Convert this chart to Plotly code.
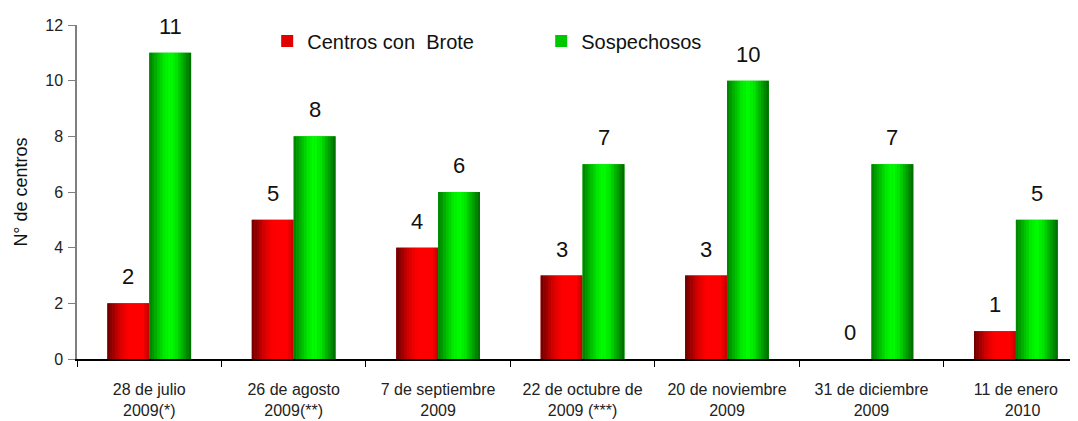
import plotly.graph_objects as go

# datos
fechas = [
    "28 de julio<br>2009(*)",
    "26 de agosto<br>2009(**)",
    "7 de septiembre<br>2009",
    "22 de octubre de<br>2009 (***)",
    "20 de noviembre<br>2009",
    "31 de diciembre<br>2009",
    "11 de enero<br>   2010",
]
centros_brote = [2, 5, 4, 3, 3, 0, 1]
sospechosos = [11, 8, 6, 7, 10, 7, 5]

FONT = "Liberation Sans"
BAR_W = 0.29
N_STRIPS = 16

# perfiles de degradado horizontal (posicion, rgb)
red_stops = [(0.0, (105, 0, 0)), (0.3, (215, 0, 0)), (0.5, (255, 0, 0)),
             (0.85, (255, 0, 0)), (1.0, (190, 0, 0))]
green_stops = [(0.0, (0, 125, 0)), (0.35, (0, 235, 0)), (0.5, (0, 255, 0)),
               (0.65, (0, 230, 0)), (1.0, (0, 100, 0))]


def grad_color(stops, t):
    for (p0, c0), (p1, c1) in zip(stops, stops[1:]):
        if p0 <= t <= p1:
            f = (t - p0) / (p1 - p0)
            r, g, b = (round(a + (b_ - a) * f) for a, b_ in zip(c0, c1))
            return f"rgb({r},{g},{b})"
    return f"rgb{stops[-1][1]}"


fig = go.Figure()

series = [
    ("Centros con  Brote", centros_brote, -BAR_W, "#e00000", red_stops),
    ("Sospechosos", sospechosos, 0.0, "#00c800", green_stops),
]

for name, vals, off, base_col, stops in series:
    fig.add_trace(go.Bar(
        x=fechas, y=vals, name=name, offset=off, width=BAR_W,
        marker=dict(color=base_col, line=dict(width=0)),
    ))
    sw = BAR_W / N_STRIPS
    for k in range(N_STRIPS):
        fig.add_trace(go.Bar(
            x=fechas, y=vals, offset=off + k * sw,
            width=sw * (1.08 if k < N_STRIPS - 1 else 1.0),
            marker=dict(color=grad_color(stops, (k + 0.5) / N_STRIPS), line=dict(width=0)),
            showlegend=False, hoverinfo="skip",
        ))

# etiquetas de valor sobre cada barra
for i, f in enumerate(fechas):
    for vals, shift in [(centros_brote, -21), (sospechosos, 21)]:
        fig.add_annotation(
            x=f, y=vals[i], text=str(vals[i]), showarrow=False,
            xshift=shift, yanchor="bottom", yshift=12,
            font=dict(family=FONT, size=22, color="#111"),
        )

# la pagina deja 8px de margen en body: la figura se ajusta a eso
fig.update_layout(
    width=1070, height=413,
    barmode="overlay",
    plot_bgcolor="white", paper_bgcolor="white",
    margin=dict(l=69, r=0, t=17, b=62),
    font=dict(family=FONT, color="#222"),
    legend=dict(
        orientation="h", x=0.19, xanchor="left", y=0.952, yanchor="middle",
        font=dict(family=FONT, size=20, color="#111"),
        entrywidth=229, entrywidthmode="pixels",
        bgcolor="rgba(0,0,0,0)",
    ),
    showlegend=True,
)

fig.update_xaxes(
    type="category", range=[-0.5, 6.43], automargin=False,
    showline=True, linecolor="black", linewidth=1.5,
    ticks="outside", tickson="boundaries", ticklen=6, tickcolor="black",
    tickfont=dict(family=FONT, size=16, color="#222"),
    ticklabelstandoff=15, showgrid=False, zeroline=False,
)

fig.update_yaxes(
    range=[0, 12], dtick=2, automargin=False,
    showline=True, linecolor="#808080", linewidth=1.5,
    ticks="outside", ticklen=7, tickcolor="#808080",
    tickfont=dict(family=FONT, size=16, color="#222"),
    ticklabelstandoff=2, showgrid=False, zeroline=False,
    title=dict(text="N° de centros", font=dict(family=FONT, size=18, color="#111"), standoff=13),
)

fig.write_html("out.html")
